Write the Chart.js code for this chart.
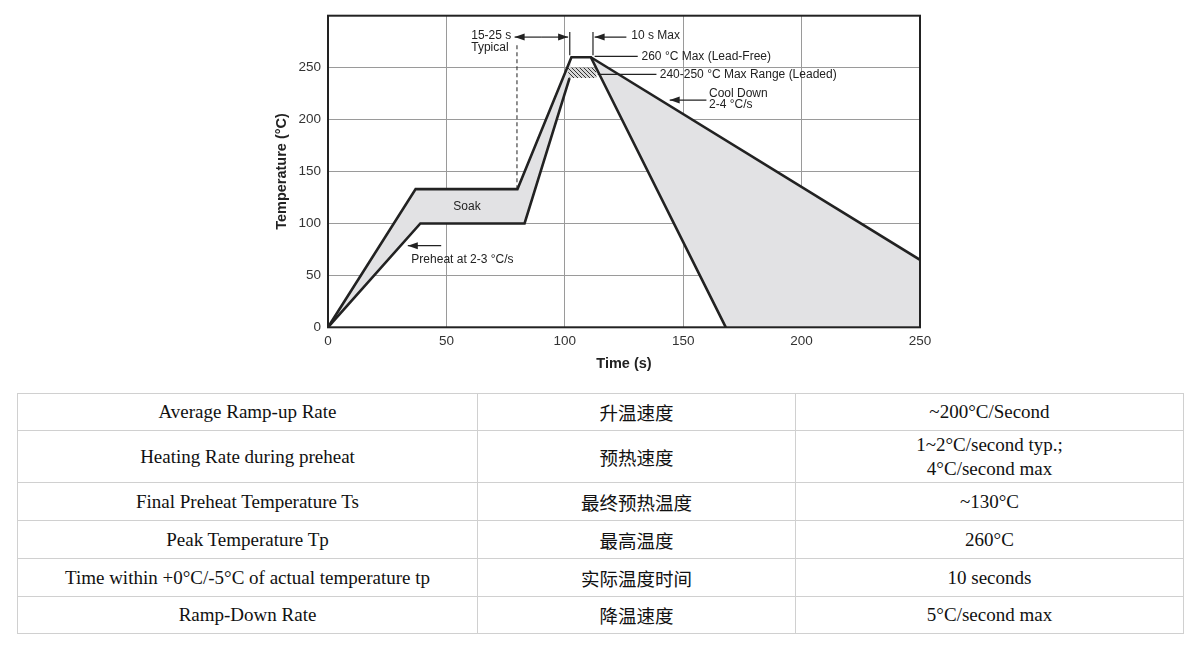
<!DOCTYPE html>
<html>
<head>
<meta charset="utf-8">
<script src="https://cdn.jsdelivr.net/npm/chart.js@4.4.1/dist/chart.umd.min.js"></script>
<style>
  html, body { margin: 0; padding: 0; background: #fff; }
  body { width: 1200px; height: 646px; position: relative; overflow: hidden; }
  #chartBox { position: absolute; left: 240px; top: 0; width: 720px; height: 382px; }
  table.spec {
    position: absolute; left: 17px; top: 393px; width: 1166px;
    border-collapse: collapse; table-layout: fixed;
    font-family: "Liberation Serif", "Times New Roman", serif; font-size: 19px; color: #111;
  }
  table.spec td {
    border: 1.5px solid #d0d0d0; text-align: center; vertical-align: middle;
    padding: 0; white-space: pre-line; line-height: 24px;
  }
  table.spec td.zh { font-family: "Noto Sans CJK SC", sans-serif; font-size: 18.5px; }
</style>
</head>
<body>
<div id="chartBox"><canvas id="reflow"></canvas></div>
<table class="spec" id="spec">
  <colgroup><col style="width:460px"><col style="width:318px"><col style="width:388px"></colgroup>
  <tbody></tbody>
</table>
<script>
// reflow profile, time in s, temperature in °C
const riseUpperTime = [0, 37, 80, 102.8];
const riseUpperTemp = [0, 133, 133, 260];
const riseLowerTime = [0, 39, 83, 102];
const riseLowerTemp = [0, 100, 100, 240];
const peakTime = [102.8, 111];
const peakTemp = [260, 260];
const fastCoolTime = [111, 168];
const fastCoolTemp = [260, 0];
const slowCoolTime = [111, 250];
const slowCoolTemp = [260, 65];
const leadedTime = [101, 113.2, 113.4, 102];
const leadedTemp = [250, 250, 240, 240];
const soakMarkTime = [79.8, 79.8];
const soakMarkTemp = [133, 273];

const timeTicks = [0, 50, 100, 150, 200, 250];
const tempTicks = [0, 50, 100, 150, 200, 250];

// spec table
const paramNames = ['Average Ramp-up Rate', 'Heating Rate during preheat', 'Final Preheat Temperature Ts',
    'Peak Temperature Tp', 'Time within +0°C/-5°C of actual temperature tp', 'Ramp-Down Rate'];
const paramNamesZh = ['升温速度', '预热速度', '最终预热温度', '最高温度', '实际温度时间', '降温速度'];
const paramValues = ['~200°C/Second', '1~2°C/second typ.;\n4°C/second max', '~130°C', '260°C', '10 seconds', '5°C/second max'];

const rowHeights = [37, 52, 38, 38, 38, 37];

const pts = (xs, ys) => xs.map((x, i) => ({ x: x, y: ys[i] }));

const tbody = document.querySelector('#spec tbody');
paramNames.forEach((name, i) => {
    const tr = document.createElement('tr');
    tr.style.height = rowHeights[i] + 'px';
    [name, paramNamesZh[i], paramValues[i]].forEach((txt, j) => {
        const td = document.createElement('td');
        if (j === 1) td.className = 'zh';
        td.textContent = txt;
        tr.appendChild(td);
    });
    tbody.appendChild(tr);
});

const ink = '#222';
const bandGray = '#e2e2e4';

const hatch = (() => {
    const c = document.createElement('canvas');
    c.width = 4; c.height = 4;
    const g = c.getContext('2d');
    g.fillStyle = '#d8d8d8';
    g.fillRect(0, 0, 4, 4);
    g.strokeStyle = '#333';
    g.lineWidth = 1;
    g.beginPath();
    g.moveTo(-1, -1); g.lineTo(5, 5);
    g.moveTo(3, -1); g.lineTo(5, 1);
    g.moveTo(-1, 3); g.lineTo(1, 5);
    g.stroke();
    return g.createPattern(c, 'repeat');
})();

const heatBand = pts(riseUpperTime, riseUpperTemp).concat(pts(riseLowerTime, riseLowerTemp).reverse());
const coolBand = pts(slowCoolTime, slowCoolTemp)
    .concat([{ x: slowCoolTime[slowCoolTime.length - 1], y: 0 }])
    .concat(pts(fastCoolTime, fastCoolTemp).reverse());
const mainLine = pts(riseUpperTime, riseUpperTemp).concat(pts(peakTime, peakTemp).slice(1), pts(fastCoolTime, fastCoolTemp).slice(1));

// callouts, placed in data units
const notes = [
    { kind: 'text', t: 60.5, c: 280.4, text: '15-25 s' },
    { kind: 'text', t: 60.5, c: 269.6, text: 'Typical' },
    { kind: 'arrow', t1: 90, c1: 279.4, t2: 78.8, c2: 279.4 },
    { kind: 'arrow', t1: 90, c1: 279.4, t2: 101.4, c2: 279.4 },
    { kind: 'line', t1: 102.1, c1: 261.9, t2: 102.1, c2: 284.3 },
    { kind: 'line', t1: 111.9, c1: 261.9, t2: 111.9, c2: 284.3 },
    { kind: 'arrow', t1: 126, c1: 279.4, t2: 112.6, c2: 279.4 },
    { kind: 'text', t: 128.1, c: 280.4, text: '10 s Max' },
    { kind: 'line', t1: 112.6, c1: 260.9, t2: 130.8, c2: 260.9 },
    { kind: 'text', t: 132.4, c: 260.9, text: '260 °C Max (Lead-Free)' },
    { kind: 'line', t1: 113.9, c1: 243.6, t2: 138.7, c2: 243.6 },
    { kind: 'text', t: 140.1, c: 243.6, text: '240-250 °C Max Range (Leaded)' },
    { kind: 'arrow', t1: 159.8, c1: 218.8, t2: 144.3, c2: 218.8 },
    { kind: 'text', t: 160.9, c: 224.6, text: 'Cool Down' },
    { kind: 'text', t: 160.9, c: 214.7, text: '2-4 °C/s' },
    { kind: 'text', t: 58.7, c: 116.1, text: 'Soak', align: 'center' },
    { kind: 'arrow', t1: 47.8, c1: 78.6, t2: 33.7, c2: 78.6 },
    { kind: 'text', t: 35.2, c: 64.8, text: 'Preheat at 2-3 °C/s' }
];

const notesPlugin = {
    id: 'notes',
    afterDatasetsDraw(chart) {
        const { ctx, scales: { x, y } } = chart;
        ctx.save();
        ctx.strokeStyle = ink;
        ctx.fillStyle = ink;
        ctx.lineWidth = 1.2;
        ctx.font = '12px "Liberation Sans", Arial, sans-serif';
        ctx.textBaseline = 'middle';
        notes.forEach(n => {
            if (n.kind === 'text') {
                ctx.textAlign = n.align || 'left';
                ctx.fillText(n.text, x.getPixelForValue(n.t), y.getPixelForValue(n.c));
                return;
            }
            const x1 = x.getPixelForValue(n.t1), y1 = y.getPixelForValue(n.c1);
            const x2 = x.getPixelForValue(n.t2), y2 = y.getPixelForValue(n.c2);
            ctx.beginPath();
            ctx.moveTo(x1, y1);
            ctx.lineTo(x2, y2);
            ctx.stroke();
            if (n.kind === 'arrow') {
                const a = Math.atan2(y2 - y1, x2 - x1);
                const len = 10, half = 3.5;
                ctx.beginPath();
                ctx.moveTo(x2, y2);
                ctx.lineTo(x2 - len * Math.cos(a) - half * Math.sin(a), y2 - len * Math.sin(a) + half * Math.cos(a));
                ctx.lineTo(x2 - len * Math.cos(a) + half * Math.sin(a), y2 - len * Math.sin(a) - half * Math.cos(a));
                ctx.closePath();
                ctx.fill();
            }
        });
        ctx.restore();
    }
};

const framePlugin = {
    id: 'frame',
    afterDraw(chart) {
        const { ctx, chartArea: a } = chart;
        ctx.save();
        ctx.strokeStyle = ink;
        ctx.lineWidth = 2;
        ctx.strokeRect(a.left, a.top, a.right - a.left, a.bottom - a.top);
        ctx.restore();
    }
};

const tickFont = { family: '"Liberation Sans", Arial, sans-serif', size: 13.5 };
const titleFont = { family: '"Liberation Sans", Arial, sans-serif', size: 14.5, weight: 'bold' };

new Chart(document.getElementById('reflow'), {
    type: 'line',
    data: {
        datasets: [
            { data: mainLine, borderColor: ink, borderWidth: 2.6, fill: false, order: 0 },
            { data: pts(riseLowerTime, riseLowerTemp), borderColor: ink, borderWidth: 2.6, fill: false, order: 0 },
            { data: pts(slowCoolTime, slowCoolTemp), borderColor: ink, borderWidth: 2.6, fill: false, order: 0 },
            { data: pts(soakMarkTime, soakMarkTemp), borderColor: '#333', borderWidth: 1.1, borderDash: [4, 3], fill: false, order: 0 },
            { data: heatBand, borderColor: 'transparent', borderWidth: 0, backgroundColor: bandGray, fill: 'shape', order: 2 },
            { data: coolBand, borderColor: 'transparent', borderWidth: 0, backgroundColor: bandGray, fill: 'shape', order: 2 },
            { data: pts(leadedTime, leadedTemp), borderColor: 'transparent', borderWidth: 0, backgroundColor: hatch, fill: 'shape', order: 1 }
        ]
    },
    options: {
        responsive: true,
        maintainAspectRatio: false,
        animation: false,
        layout: { padding: { top: 15.7, right: 40, left: 0, bottom: 0 } },
        elements: { point: { radius: 0, hoverRadius: 0 }, line: { tension: 0, borderJoinStyle: 'miter' } },
        plugins: { legend: { display: false }, tooltip: { enabled: false } },
        scales: {
            x: {
                type: 'linear', min: 0, max: 250,
                afterBuildTicks: s => { s.ticks = timeTicks.map(v => ({ value: v })); },
                afterFit: s => { s.height = 54.7; },
                ticks: { color: '#333', font: tickFont, padding: 6, maxRotation: 0 },
                grid: { color: '#9a9a9a', lineWidth: 1, drawTicks: false },
                border: { display: false },
                title: { display: true, text: 'Time (s)', color: '#222', font: titleFont, padding: { top: 0, bottom: 9.3 } }
            },
            y: {
                min: 0, max: 300,
                afterBuildTicks: s => { s.ticks = tempTicks.map(v => ({ value: v })); },
                afterFit: s => { s.width = 88; },
                ticks: { color: '#333', font: tickFont, padding: 7 },
                grid: { color: '#9a9a9a', lineWidth: 1, drawTicks: false },
                border: { display: false },
                title: { display: true, text: 'Temperature (°C)', color: '#222', font: titleFont, padding: { top: 33, bottom: 0 } }
            }
        }
    },
    plugins: [notesPlugin, framePlugin]
});
</script>
</body>
</html>
